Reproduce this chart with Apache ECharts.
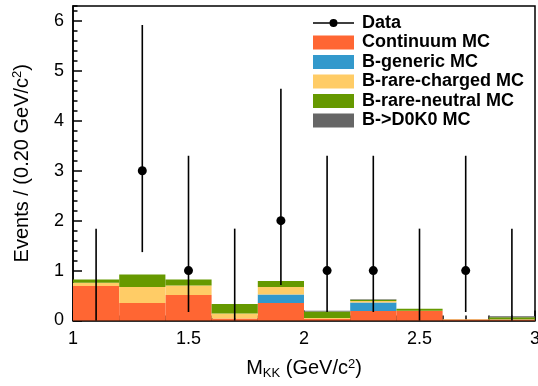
<!DOCTYPE html>
<html>
<head>
<meta charset="utf-8">
<script src="https://cdn.jsdelivr.net/npm/echarts@6/dist/echarts.min.js"></script>
<style>html,body{margin:0;padding:0;background:#fff;}#c{width:538px;height:386px;}</style>
</head>
<body>
<div id="c"></div>
<script>
// Bin edges (GeV/c^2)
var binLow  = [1.0, 1.2, 1.4, 1.6, 1.8, 2.0, 2.2, 2.4, 2.6, 2.8];
var binHigh = [1.2, 1.4, 1.6, 1.8, 2.0, 2.2, 2.4, 2.6, 2.8, 3.0];
var binCenter = [1.1, 1.3, 1.5, 1.7, 1.9, 2.1, 2.3, 2.5, 2.7, 2.9];

// Stacked MC components (bottom to top)
var continuum = [0.69, 0.35, 0.51, 0.04, 0.35, 0.03, 0.19, 0.19, 0.02, 0.015];
var bgeneric  = [0, 0, 0, 0, 0.17, 0, 0.17, 0, 0, 0];
var brareCh   = [0.065, 0.32, 0.19, 0.10, 0.15, 0.02, 0.03, 0.005, 0.008, 0.01];
var brareNeu  = [0.065, 0.25, 0.12, 0.19, 0.12, 0.13, 0.025, 0.04, 0, 0.04];
var bd0k0     = [0, 0, 0, 0, 0, 0.015, 0.01, 0, 0, 0.02];

// Data with asymmetric (Poisson) errors
var dataVal  = [0, 3, 1, 0, 2, 1, 1, 0, 1, 0];
var dataLow  = [0, 1.37, 0.17, 0, 0.71, 0.17, 0.17, 0, 0.17, 0];
var dataHigh = [1.84, 5.92, 3.30, 1.84, 4.64, 3.30, 3.30, 1.84, 3.30, 1.84];

var yTicks = [0, 1, 2, 3, 4, 5, 6];

var comps = [
  {name: 'Continuum MC', vals: continuum, color: '#FF6633'},
  {name: 'B-generic MC', vals: bgeneric, color: '#3399CC'},
  {name: 'B-rare-charged MC', vals: brareCh, color: '#FFCC66'},
  {name: 'B-rare-neutral MC', vals: brareNeu, color: '#669900'},
  {name: 'B->D0K0 MC', vals: bd0k0, color: '#666666'}
];

var FONT = 'Liberation Sans';
var base = binLow.map(function(){return 0;});
var series = [];
comps.forEach(function(c){
  var items = [];
  for (var i = 0; i < binLow.length; i++) {
    var b0 = base[i], b1 = base[i] + c.vals[i];
    items.push([binLow[i], binHigh[i], b0, b1]);
    base[i] = b1;
  }
  series.push({
    type: 'custom', name: c.name, itemStyle: {color: c.color},
    encode: {x: [0, 1], y: [2, 3]},
    data: items,
    renderItem: function(params, api){
      var p0 = api.coord([api.value(0), api.value(3)]);
      var p1 = api.coord([api.value(1), api.value(2)]);
      var h = p1[1] - p0[1];
      if (h <= 0) return null;
      return {type: 'rect', shape: {x: p0[0], y: p0[1], width: p1[0] - p0[0], height: h},
              style: {fill: c.color}};
    }
  });
});

var errItems = binCenter.map(function(x, i){ return [x, dataLow[i], dataHigh[i]]; });
series.push({
  type: 'custom', name: 'errbars', silent: true, z: 5,
  encode: {x: 0, y: [1, 2]},
  data: errItems,
  renderItem: function(params, api){
    var a = api.coord([api.value(0), api.value(1)]);
    var b = api.coord([api.value(0), api.value(2)]);
    return {type: 'line', shape: {x1: a[0], y1: a[1], x2: b[0], y2: b[1]},
            style: {stroke: '#000', lineWidth: 1.6}};
  }
});

var pts = [];
binCenter.forEach(function(x, i){ if (dataVal[i] > 0) pts.push([x, dataVal[i]]); });
series.push({
  type: 'scatter', name: 'Data', z: 6, symbol: 'circle', symbolSize: 9,
  itemStyle: {color: '#000', opacity: 1}, data: pts
});

var legendData = [{name: 'Data', icon: 'path://M0,3.25h41v1.5h-41z M24.5,4a4,4 0 1 1 -8,0a4,4 0 1 1 8,0z', itemStyle: {color: '#000', opacity: 1}}];
comps.forEach(function(c){ legendData.push({name: c.name, icon: 'rect'}); });

var chart = echarts.init(document.getElementById('c'), null, {renderer: 'canvas'});
chart.setOption({
  animation: false,
  backgroundColor: '#fff',
  grid: {left: 73, right: 3, top: 6, bottom: 65.5, show: true, borderColor: '#000', borderWidth: 1.5,
         backgroundColor: 'transparent', outerBoundsMode: 'none', containLabel: false},
  legend: {
    orient: 'vertical', left: 308, top: 9, itemWidth: 41, itemHeight: 14, itemGap: 1.5,
    selectedMode: false, data: legendData,
    textStyle: {fontFamily: FONT, fontWeight: 'bold', fontSize: 18, color: '#000', padding: [0, 0, 0, 3]}
  },
  xAxis: {
    type: 'value', min: 1, max: 3, interval: 0.5,
    name: 'M{sub|KK} (GeV/c{sup|2})', nameLocation: 'middle', nameGap: 37,
    nameTextStyle: {fontFamily: FONT, fontSize: 20, color: '#000',
      rich: {sub: {fontFamily: FONT, fontSize: 13, color: '#000', verticalAlign: 'bottom', padding: [9, 0, 0, 0]},
             sup: {fontFamily: FONT, fontSize: 13, color: '#000', verticalAlign: 'top', padding: [0, 0, 9, 0]}}},
    axisLine: {show: true, lineStyle: {color: '#000', width: 1.5}},
    axisTick: {show: true, inside: true, length: 10, lineStyle: {color: '#000', width: 1.5}},
    minorTick: {show: true, splitNumber: 5, length: 5, lineStyle: {color: '#000', width: 1.5}},
    axisLabel: {fontFamily: FONT, fontSize: 18, color: '#000', margin: 10},
    splitLine: {show: false}, minorSplitLine: {show: false}
  },
  yAxis: [{
    type: 'value', min: 0, max: 6.3, interval: 1,
    name: 'Events / (0.20 GeV/c{sup|2})', nameLocation: 'middle', nameGap: 40,
    nameTextStyle: {fontFamily: FONT, fontSize: 20, color: '#000',
      rich: {sup: {fontFamily: FONT, fontSize: 13, color: '#000', verticalAlign: 'top', padding: [0, 0, 9, 0]}}},
    axisLine: {show: true, lineStyle: {color: '#000', width: 1.5}},
    axisTick: {show: true, inside: true, length: 9, lineStyle: {color: '#000', width: 1.5}},
    axisLabel: {fontFamily: FONT, fontSize: 18, color: '#000', margin: 9, showMaxLabel: false,
      formatter: function(v){ return yTicks.indexOf(v) >= 0 ? String(v) : ''; }},
    splitLine: {show: false}
  }, {
    type: 'value', min: 0, max: 6.3, interval: 0.2, position: 'left', offset: 0,
    axisLine: {show: false},
    axisTick: {show: true, inside: true, length: 4.5, lineStyle: {color: '#000', width: 1.5}},
    axisLabel: {show: false}, splitLine: {show: false}
  }],
  series: series
});
</script>
</body>
</html>
